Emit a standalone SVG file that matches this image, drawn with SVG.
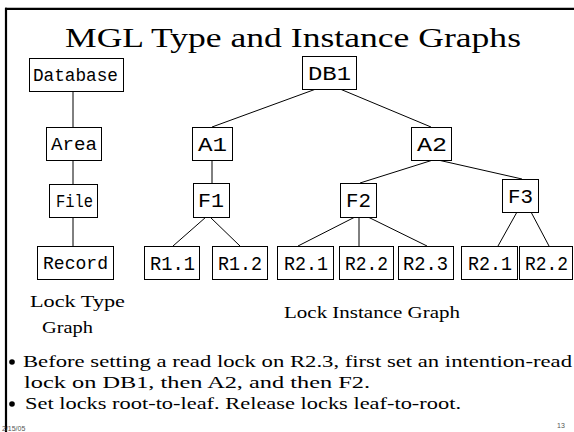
<svg xmlns="http://www.w3.org/2000/svg" width="574" height="432" viewBox="0 0 574 432">
  <style>
    .box { fill: #ffffff; stroke: #000000; stroke-width: 1; }
    .edge { stroke: #000000; stroke-width: 1; fill: none; }
    .lbl { font-family: "Liberation Mono", "Courier New", monospace; fill: #000000; text-anchor: start; }
    .tl { font-size: 18px; }
    .il { font-size: 20px; }
    .serif { font-family: "Liberation Serif", "Times New Roman", serif; fill: #000000; }
    .foot { font-family: "Liberation Sans", Arial, sans-serif; font-size: 7px; fill: #555555; }
  </style>

  <rect x="0" y="0" width="574" height="432" fill="#ffffff"/>

  <!-- slide frame: top and left rules -->
  <g id="frame" stroke="#000000" stroke-width="2.2" fill="none">
    <line x1="5" y1="8.8" x2="574" y2="8.8"/>
    <line x1="6" y1="7.7" x2="6" y2="432"/>
  </g>

  <text id="title" class="serif" x="65" y="47" font-size="27" textLength="456" lengthAdjust="spacingAndGlyphs">MGL Type and Instance Graphs</text>

  <!-- connectors -->
  <g id="connectors">
    <line class="edge" x1="73" y1="91" x2="73" y2="127"/>
    <line class="edge" x1="73" y1="160" x2="73" y2="184"/>
    <line class="edge" x1="73" y1="217" x2="73" y2="246"/>

    <line class="edge" x1="316" y1="89" x2="212" y2="127"/>
    <line class="edge" x1="340" y1="89" x2="431" y2="127"/>
    <line class="edge" x1="212" y1="160" x2="212" y2="183"/>
    <line class="edge" x1="433" y1="160" x2="360" y2="183"/>
    <line class="edge" x1="438" y1="160" x2="522" y2="179"/>
    <line class="edge" x1="206" y1="217" x2="173" y2="246"/>
    <line class="edge" x1="210" y1="217" x2="240" y2="246"/>
    <line class="edge" x1="355" y1="217" x2="298" y2="246"/>
    <line class="edge" x1="359" y1="217" x2="359" y2="246"/>
    <line class="edge" x1="368" y1="217" x2="427" y2="246"/>
    <line class="edge" x1="517" y1="212" x2="498" y2="246"/>
    <line class="edge" x1="531" y1="212" x2="549" y2="246"/>
  </g>

  <!-- lock type graph -->
  <g id="database">
    <rect class="box" x="29.5" y="58.5" width="94" height="33"/>
    <text class="lbl tl" x="33" y="80.5" textLength="85" lengthAdjust="spacingAndGlyphs">Database</text>
  </g>
  <g id="area">
    <rect class="box" x="46.5" y="127.5" width="55" height="33"/>
    <text class="lbl tl" x="51" y="149.5" textLength="46" lengthAdjust="spacingAndGlyphs">Area</text>
  </g>
  <g id="file">
    <rect class="box" x="49.5" y="184.5" width="48" height="33"/>
    <text class="lbl tl" x="56" y="206.5" textLength="37" lengthAdjust="spacingAndGlyphs">File</text>
  </g>
  <g id="record">
    <rect class="box" x="37.5" y="246.5" width="76" height="33"/>
    <text class="lbl tl" x="43" y="268.5" textLength="65" lengthAdjust="spacingAndGlyphs">Record</text>
  </g>

  <!-- lock instance graph -->
  <g id="db1">
    <rect class="box" x="302.5" y="56.5" width="54" height="33"/>
    <text class="lbl il" x="308" y="79.5" textLength="43" lengthAdjust="spacingAndGlyphs">DB1</text>
  </g>
  <g id="a1">
    <rect class="box" x="192.5" y="127.5" width="40" height="33"/>
    <text class="lbl il" x="198" y="150.5" textLength="29" lengthAdjust="spacingAndGlyphs">A1</text>
  </g>
  <g id="a2">
    <rect class="box" x="411.5" y="127.5" width="40" height="33"/>
    <text class="lbl il" x="417" y="150.5" textLength="30" lengthAdjust="spacingAndGlyphs">A2</text>
  </g>
  <g id="f1">
    <rect class="box" x="193.5" y="183.5" width="36" height="34"/>
    <text class="lbl il" x="198" y="207" textLength="26" lengthAdjust="spacingAndGlyphs">F1</text>
  </g>
  <g id="f2">
    <rect class="box" x="340.5" y="183.5" width="36" height="34"/>
    <text class="lbl il" x="346" y="207" textLength="25" lengthAdjust="spacingAndGlyphs">F2</text>
  </g>
  <g id="f3">
    <rect class="box" x="502.5" y="179.5" width="36" height="33"/>
    <text class="lbl il" x="508" y="202.5" textLength="25" lengthAdjust="spacingAndGlyphs">F3</text>
  </g>
  <g id="r11">
    <rect class="box" x="144.5" y="246.5" width="55" height="33"/>
    <text class="lbl il" x="150" y="269.5" textLength="45" lengthAdjust="spacingAndGlyphs">R1.1</text>
  </g>
  <g id="r12">
    <rect class="box" x="212.5" y="246.5" width="55" height="33"/>
    <text class="lbl il" x="218" y="269.5" textLength="44" lengthAdjust="spacingAndGlyphs">R1.2</text>
  </g>
  <g id="r21">
    <rect class="box" x="277.5" y="246.5" width="56" height="33"/>
    <text class="lbl il" x="284" y="269.5" textLength="44" lengthAdjust="spacingAndGlyphs">R2.1</text>
  </g>
  <g id="r22">
    <rect class="box" x="339.5" y="246.5" width="54" height="33"/>
    <text class="lbl il" x="345" y="269.5" textLength="43" lengthAdjust="spacingAndGlyphs">R2.2</text>
  </g>
  <g id="r23">
    <rect class="box" x="398.5" y="246.5" width="55" height="33"/>
    <text class="lbl il" x="403" y="269.5" textLength="45" lengthAdjust="spacingAndGlyphs">R2.3</text>
  </g>
  <g id="r21b">
    <rect class="box" x="461.5" y="246.5" width="56" height="33"/>
    <text class="lbl il" x="468" y="269.5" textLength="44" lengthAdjust="spacingAndGlyphs">R2.1</text>
  </g>
  <g id="r22b">
    <rect class="box" x="519.5" y="246.5" width="53" height="33"/>
    <text class="lbl il" x="525" y="269.5" textLength="43" lengthAdjust="spacingAndGlyphs">R2.2</text>
  </g>

  <!-- captions -->
  <text class="serif" x="30" y="307" font-size="17" textLength="95" lengthAdjust="spacingAndGlyphs">Lock Type</text>
  <text class="serif" x="42" y="333" font-size="17" textLength="51" lengthAdjust="spacingAndGlyphs">Graph</text>
  <text class="serif" x="284" y="318" font-size="17" textLength="176" lengthAdjust="spacingAndGlyphs">Lock Instance Graph</text>

  <!-- bullets -->
  <circle cx="12" cy="362" r="2.8" fill="#000000"/>
  <text class="serif" x="23" y="367" font-size="17" textLength="549" lengthAdjust="spacingAndGlyphs">Before setting a read lock on R2.3, first set an intention-read</text>
  <text class="serif" x="24" y="388" font-size="17" textLength="346" lengthAdjust="spacingAndGlyphs">lock on DB1, then A2, and then F2.</text>
  <circle cx="12" cy="404" r="2.8" fill="#000000"/>
  <text class="serif" x="25" y="409" font-size="17" textLength="436" lengthAdjust="spacingAndGlyphs">Set locks root-to-leaf. Release locks leaf-to-root.</text>

  <!-- footer -->
  <text class="foot" x="2" y="431">2/15/05</text>
  <text class="foot" x="557" y="428">13</text>
</svg>
